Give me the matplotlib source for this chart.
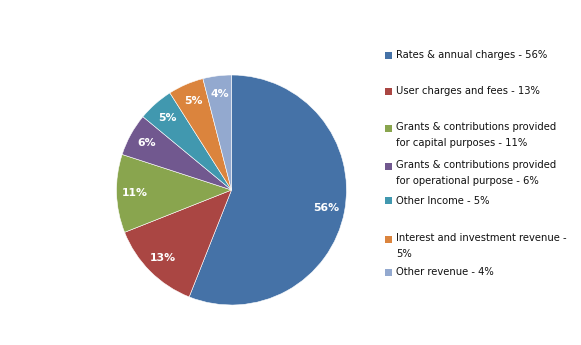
import matplotlib
matplotlib.use("Agg")
import matplotlib.pyplot as plt
from matplotlib.patches import Rectangle

labels = ["Rates & annual charges - 56%",
          "User charges and fees - 13%",
          "Grants & contributions provided\nfor capital purposes - 11%",
          "Grants & contributions provided\nfor operational purpose - 6%",
          "Other Income - 5%",
          "Interest and investment revenue -\n5%",
          "Other revenue - 4%"]
values = [56, 13, 11, 6, 5, 5, 4]
colors = ["#4572A7", "#AA4643", "#89A54E", "#71588F", "#4198AF", "#DB843D", "#93A9CF"]

W, H = 581, 345
fig = plt.figure(figsize=(W / 100, H / 100), dpi=100)

# pie: centre ~(231,190) px, radius ~115 px
cx, cy, r = 231.5, 190, 115
ax = fig.add_axes([(cx - r) / W, 1 - (cy + r) / H, 2 * r / W, 2 * r / H])
wedges, texts = ax.pie(values, colors=colors, startangle=90, counterclock=False,
                       labels=[f"{v}%" for v in values], labeldistance=0.84,
                       wedgeprops=dict(edgecolor="white", linewidth=0.4))
for t in texts:
    t.set_color("white")
    t.set_fontweight("bold")
    t.set_fontsize(7.8)
    t.set_ha("center")
    t.set_va("center")
ax.set_aspect("equal")
ax.set_xlim(-1, 1)
ax.set_ylim(-1, 1)

# legend entries drawn by hand, Excel-style spacing
ys = [55, 91, 128, 166, 201, 239, 272]
for lab, col, y in zip(labels, colors, ys):
    fig.patches.append(Rectangle((385 / W, 1 - (y + 3.5) / H), 7 / W, 7 / H,
                                 facecolor=col, edgecolor="none",
                                 transform=fig.transFigure))
    two = "\n" in lab
    fig.text(396 / W, 1 - ((y - 6) if two else y) / H, lab, fontsize=7.2,
             color="#111111", va="top" if two else "center", ha="left",
             linespacing=1.75, family="DejaVu Sans")

fig.savefig("out.png", dpi=100)
